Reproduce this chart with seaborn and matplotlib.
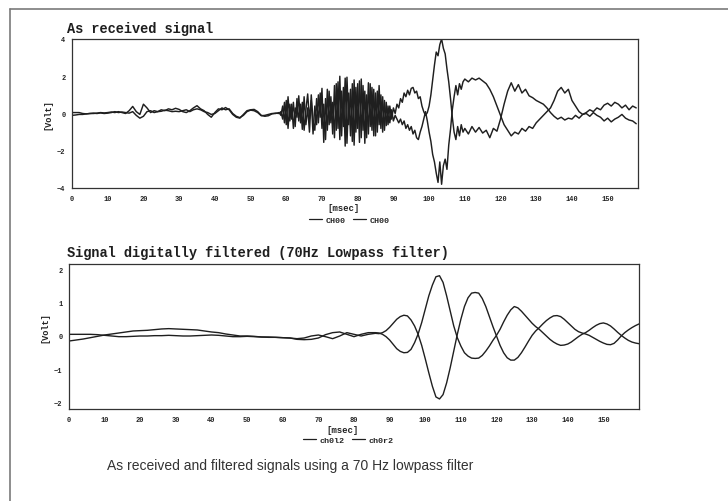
import numpy as np
import pandas as pd
import matplotlib
matplotlib.use("Agg")
import matplotlib.pyplot as plt
from matplotlib.lines import Line2D
import seaborn as sns

sns.set_style("white")
plt.rcParams["font.family"] = ["Liberation Mono", "DejaVu Sans Mono"]
plt.rcParams["font.weight"] = "bold"

# ---------------------------------------------------------------
# As received signal (two channels), sampled at 1 ms / 0.5 ms / 1 ms
# ---------------------------------------------------------------
t_received = np.concatenate([np.arange(0, 58, 1.0),
                             np.arange(58, 110, 0.5),
                             np.arange(110, 159, 1.0)])

received_a = [
    # 0 .. 57 ms
    -0.10, -0.08, -0.05, -0.05, -0.02, 0.00, 0.00, 0.02, 0.05, 0.03,
    0.05, 0.08, 0.05, 0.10, 0.05, 0.00, 0.15, 0.38, 0.10, -0.05,
    0.50, 0.30, 0.05, 0.15, 0.10, 0.20, 0.15, 0.25, 0.20, 0.28,
    0.22, 0.10, 0.05, 0.15, 0.30, 0.42, 0.25, 0.15, -0.05, -0.20,
    0.05, 0.25, 0.20, 0.32, 0.20, -0.05, -0.20, -0.25, -0.05, 0.15,
    0.20, 0.22, 0.10, -0.10, -0.15, -0.12, -0.02, 0.02,
    # 58 .. 109.5 ms
    0.0, 0.1, -0.3, 0.6, -0.6, 0.9, -0.4, 0.5, -0.8, 0.3,
    -0.2, 0.95, -0.5, 0.6, -0.9, 0.2, 1.05, -0.3, 0.7, -1.1,
    0.4, -0.6, 1.0, -0.2, 1.35, -1.55, 0.8, -0.9, 1.2, -0.5,
    0.6, -1.3, 1.6, -0.8, 2.0, -1.2, 1.4, -1.75, 1.95, -0.6,
    1.3, -1.5, 1.8, -1.0, 1.6, -1.55, 1.85, -0.9, 1.2, -1.3,
    1.65, -0.7, 1.4, -1.2, 1.1, -1.0, 1.5, -0.8, 0.9, -0.9,
    0.6, -0.6, 0.4, -0.3, 0.3, 0.0, 0.5, 0.3, 0.8, 0.6,
    1.1, 0.9, 1.25, 1.0, 1.35, 1.4, 1.1, 1.2, 0.8, 0.9,
    0.4, 0.1, -0.1, 0.05, 0.4, 1.0, 1.8, 2.6, 3.3, 3.1,
    3.7, 4.0, 3.5, 3.2, 2.4, 1.7, 0.8, -0.2, -1.0, -1.4,
    -0.7, -1.2, -0.6, -1.0,
    # 110 .. 158 ms
    -0.8, -1.1, -0.7, -1.0, -0.75, -1.05, -0.9, -1.3, -0.8, -0.95,
    -0.3, 0.5, 1.2, 1.65, 1.2, 1.55, 1.1, 1.3, 0.95, 0.85,
    0.7, 0.6, 0.5, 0.3, 0.05, -0.15, -0.3, -0.2, -0.35, -0.25,
    -0.3, -0.1, -0.25, -0.05, 0.05, 0.2, 0.1, 0.3, 0.2, 0.45,
    0.55, 0.4, 0.6, 0.5, 0.3, 0.45, 0.2, 0.4, 0.3,
]

received_b = [
    # 0 .. 57 ms
    0.05, 0.05, 0.05, 0.00, -0.02, 0.00, 0.02, 0.00, 0.03, 0.00,
    0.02, 0.05, 0.10, 0.05, 0.08, 0.05, 0.02, 0.10, -0.10, -0.25,
    -0.15, 0.10, 0.15, 0.05, 0.10, 0.12, 0.18, 0.15, 0.10, 0.12,
    0.10, 0.15, 0.20, 0.10, 0.20, 0.25, 0.20, 0.10, 0.05, -0.05,
    0.00, 0.15, 0.30, 0.20, 0.25, 0.00, -0.15, -0.22, -0.10, 0.10,
    0.18, 0.15, 0.05, -0.12, -0.10, -0.05, 0.00, 0.00,
    # 58 .. 109.5 ms
    0.05, -0.1, 0.4, -0.5, 0.7, -0.8, 0.5, -0.3, 0.6, -0.7,
    0.8, -0.4, 0.5, -0.85, 0.9, -0.6, 0.3, -1.0, 1.0, -0.4,
    -0.9, 0.8, -0.5, 1.1, -0.8, 0.5, -1.4, 1.3, -0.6, 0.9,
    -1.1, 1.5, -0.9, 1.7, -1.4, 1.2, -0.7, 1.9, -1.6, 1.1,
    -1.2, 1.6, -1.7, 1.4, -0.8, 1.75, -1.3, 1.5, -1.6, 1.0,
    -1.1, 1.6, -0.9, 1.3, -1.2, 1.2, -0.6, 1.0, -1.0, 0.7,
    -0.65, 0.4, -0.5, 0.2, -0.4, -0.1, -0.3, -0.5, -0.3, -0.6,
    -0.4, -0.8, -0.6, -0.9, -0.7, -1.1, -0.9, -1.3, -1.4, -1.0,
    -0.7, -0.3, 0.1, -0.4, -1.0, -1.5, -2.2, -2.6, -3.2, -3.7,
    -2.6, -3.8, -2.8, -2.45, -3.0, -1.7, -0.85, 0.2, 0.9, 1.5,
    1.0, 1.6, 1.3, 1.7,
    # 110 .. 158 ms
    1.85, 1.7, 1.9, 1.8, 1.9, 1.75, 1.6, 1.3, 0.9, 0.4,
    -0.1, -0.6, -0.9, -1.2, -1.0, -1.1, -0.8, -0.95, -0.7, -0.8,
    -0.5, -0.3, -0.1, 0.1, 0.3, 0.7, 1.2, 1.4, 1.1, 1.3,
    0.7, 0.4, 0.1, -0.05, 0.0, -0.15, 0.05, -0.1, -0.2, -0.4,
    -0.25, -0.45, -0.3, -0.2, -0.05, -0.25, -0.35, -0.4, -0.55,
]

# ---------------------------------------------------------------
# Same channels after the 70 Hz lowpass filter
# ---------------------------------------------------------------
t_filtered = np.concatenate([np.arange(0, 86, 2.0), np.arange(86, 161, 1.0)])

filtered_l = [
    # 0 .. 84 ms (2 ms steps)
    0.05, 0.05, 0.05, 0.05, 0.04, 0.02, 0.0, -0.02, -0.02, -0.01,
    0.0, 0.0, 0.01, 0.01, 0.02, 0.01, 0.0, 0.0, 0.01, 0.02,
    0.03, 0.02, 0.0, -0.02, -0.02, -0.01, -0.02, -0.03, -0.03, -0.04,
    -0.05, -0.06, -0.08, -0.06, 0.0, 0.03, -0.02, -0.08, 0.0, 0.1,
    0.05, 0.0, 0.05,
    # 86 .. 160 ms
    0.08, 0.07, 0.1, 0.16, 0.26, 0.38, 0.5, 0.58, 0.62, 0.6,
    0.48, 0.3, 0.05, -0.28, -0.68, -1.1, -1.5, -1.82, -1.88, -1.75,
    -1.4, -0.95, -0.45, 0.05, 0.5, 0.88, 1.14, 1.28, 1.3, 1.28,
    1.12, 0.88, 0.58, 0.28, 0.0, -0.28, -0.5, -0.65, -0.72, -0.72,
    -0.64, -0.5, -0.33, -0.15, 0.02, 0.15, 0.25, 0.36, 0.46, 0.54,
    0.6, 0.61, 0.58, 0.5, 0.4, 0.3, 0.2, 0.13, 0.09, 0.06,
    0.02, -0.04, -0.1, -0.16, -0.21, -0.25, -0.26, -0.22, -0.12, 0.0,
    0.1, 0.18, 0.25, 0.31, 0.36,
]

filtered_r = [
    # 0 .. 84 ms (2 ms steps)
    -0.15, -0.12, -0.09, -0.05, -0.01, 0.03, 0.06, 0.09, 0.12, 0.15,
    0.16, 0.17, 0.19, 0.21, 0.22, 0.21, 0.2, 0.19, 0.18, 0.15,
    0.12, 0.1, 0.06, 0.03, 0.0, 0.0, -0.01, -0.03, -0.04, -0.04,
    -0.05, -0.06, -0.1, -0.11, -0.1, -0.06, 0.04, 0.1, 0.12, 0.05,
    -0.02, 0.05, 0.1,
    # 86 .. 160 ms
    0.1, 0.09, 0.05, -0.02, -0.12, -0.25, -0.38, -0.46, -0.5, -0.49,
    -0.4, -0.2, 0.06, 0.4, 0.8, 1.2, 1.52, 1.77, 1.8, 1.6,
    1.2, 0.75, 0.3, -0.05, -0.3, -0.5, -0.6, -0.66, -0.67, -0.66,
    -0.58, -0.45, -0.3, -0.13, 0.02, 0.2, 0.42, 0.62, 0.78, 0.88,
    0.84, 0.74, 0.62, 0.5, 0.38, 0.28, 0.2, 0.1, 0.0, -0.1,
    -0.18, -0.24, -0.28, -0.27, -0.24, -0.18, -0.1, -0.02, 0.05, 0.1,
    0.17, 0.25, 0.32, 0.37, 0.39, 0.36, 0.3, 0.21, 0.11, 0.02,
    -0.06, -0.13, -0.18, -0.21, -0.23,
]

received_labels = ["CH00", "CH00"]
filtered_labels = ["ch0l2", "ch0r2"]
x_ticks = list(range(0, 160, 10))
received_y_ticks = [-4, -2, 0, 2, 4]
filtered_y_ticks = [-2, -1, 0, 1, 2]

received = pd.DataFrame({"t": t_received, "a": received_a, "b": received_b})
filtered = pd.DataFrame({"t": t_filtered, "l": filtered_l, "r": filtered_r})

ink = "#1f1f1f"
W, H = 728, 502

fig = plt.figure(figsize=(W / 100, H / 100), dpi=100)
ax1 = fig.add_axes([72 / W, 1 - 189 / H, 566 / W, 149 / H])
ax2 = fig.add_axes([69 / W, 1 - 410 / H, 570 / W, 145 / H])

sns.lineplot(data=received, x="t", y="a", ax=ax1, color=ink, lw=1.05)
sns.lineplot(data=received, x="t", y="b", ax=ax1, color=ink, lw=1.05)
sns.lineplot(data=filtered, x="t", y="l", ax=ax2, color=ink, lw=1.0)
sns.lineplot(data=filtered, x="t", y="r", ax=ax2, color=ink, lw=1.0)

ax1.set_xlim(0, 158.5)
ax1.set_ylim(-4, 4)
ax1.set_yticks(received_y_ticks)
ax2.set_xlim(0, 160)
ax2.set_ylim(-2.18, 2.15)
ax2.set_yticks(filtered_y_ticks)

for ax, labels, lab_y, leg_y, vy in [
    (ax1, received_labels, -0.134, -0.215, 0.5),
    (ax2, filtered_labels, -0.138, -0.214, 0.565),
]:
    ax.set_xticks(x_ticks)
    ax.set_xlabel("")
    ax.set_ylabel("")
    for s in ax.spines.values():
        s.set_color("#333333")
        s.set_linewidth(0.9)
    ax.tick_params(axis="both", labelsize=5, colors="#222222", length=2.5,
                   width=0.8, pad=2.2, direction="out")
    ax.text(0.479, lab_y, "[msec]", transform=ax.transAxes, ha="center",
            va="center", fontsize=6.5, color="#222222")
    ax.text(-0.042, vy, "[Volt]", transform=ax.transAxes, ha="center",
            va="center", rotation=90, fontsize=6.2, color="#222222")
    handles = [Line2D([], [], color=ink, lw=0.9) for _ in labels]
    ax.legend(handles, labels, loc="center", bbox_to_anchor=(0.49, leg_y),
              ncol=2, frameon=False, fontsize=6, handlelength=1.6,
              handletextpad=0.4, columnspacing=0.9, borderpad=0)

fig.text(67 / W, 1 - 33 / H, "As received signal", ha="left", va="baseline",
         fontsize=9.8, color="#1e1e1e")
fig.text(67 / W, 1 - 257 / H, "Signal digitally filtered (70Hz Lowpass filter)",
         ha="left", va="baseline", fontsize=9.8, color="#1e1e1e")
fig.text(107 / W, 1 - 466 / H,
         "As received and filtered signals using a 70 Hz lowpass filter",
         ha="left", va="center", fontsize=10, fontweight="normal",
         family=["Liberation Sans", "DejaVu Sans"], color="#333333")

# page frame
fig.add_artist(Line2D([10 / W, 1], [1 - 10 / H, 1 - 10 / H],
                      transform=fig.transFigure, color="#7a7a7a", lw=1.2))
fig.add_artist(Line2D([10 / W, 10 / W], [1 - 10 / H, 0],
                      transform=fig.transFigure, color="#7a7a7a", lw=1.2))

fig.savefig("out.png", dpi=100, facecolor="white")
